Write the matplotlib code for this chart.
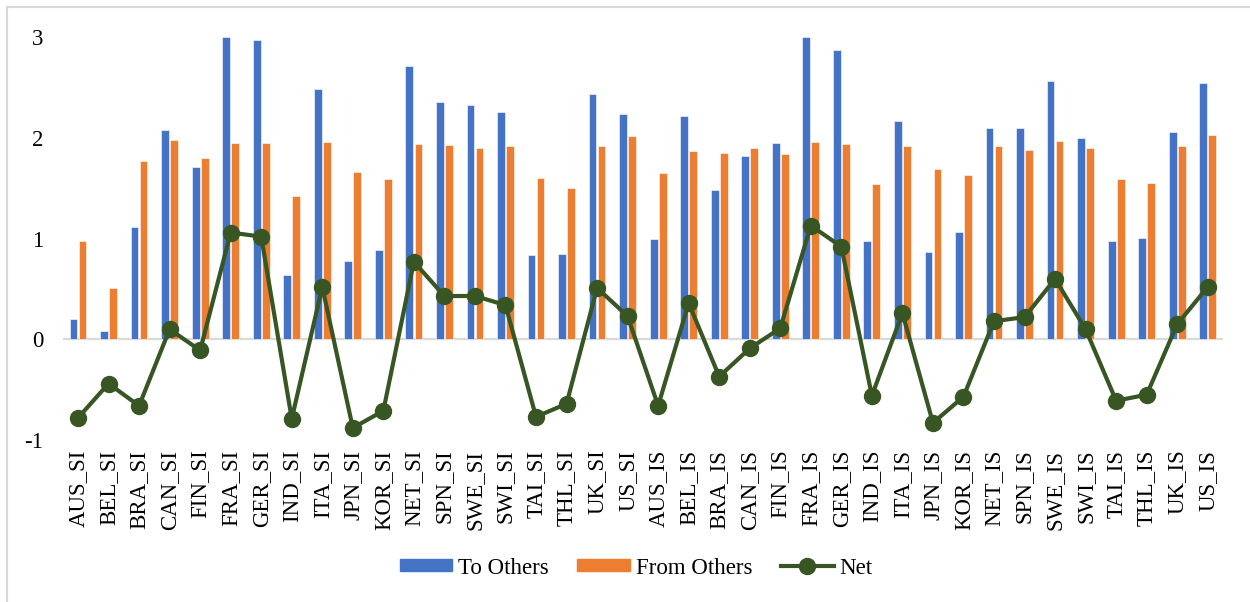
import matplotlib
matplotlib.use("Agg")
import matplotlib.pyplot as plt
import numpy as np
from matplotlib.lines import Line2D

plt.rcParams['font.family'] = ['Liberation Serif', 'DejaVu Serif']

categories = [
    "AUS_SI", "BEL_SI", "BRA_SI", "CAN_SI", "FIN_SI", "FRA_SI", "GER_SI", "IND_SI",
    "ITA_SI", "JPN_SI", "KOR_SI", "NET_SI", "SPN_SI", "SWE_SI", "SWI_SI", "TAI_SI",
    "THL_SI", "UK_SI", "US_SI",
    "AUS_IS", "BEL_IS", "BRA_IS", "CAN_IS", "FIN_IS", "FRA_IS", "GER_IS", "IND_IS",
    "ITA_IS", "JPN_IS", "KOR_IS", "NET_IS", "SPN_IS", "SWE_IS", "SWI_IS", "TAI_IS",
    "THL_IS", "UK_IS", "US_IS",
]

to_others = [
    0.20, 0.08, 1.12, 2.08, 1.71, 3.00, 2.97, 0.64, 2.49, 0.78, 0.89, 2.71, 2.36,
    2.33, 2.26, 0.84, 0.85, 2.44, 2.24,
    1.00, 2.22, 1.48, 1.82, 1.95, 3.00, 2.87, 0.98, 2.17, 0.87, 1.07, 2.10, 2.10,
    2.57, 2.00, 0.98, 1.01, 2.06, 2.55,
]

from_others = [
    0.98, 0.51, 1.77, 1.98, 1.80, 1.95, 1.95, 1.42, 1.96, 1.66, 1.59, 1.94, 1.93,
    1.90, 1.92, 1.60, 1.50, 1.92, 2.02,
    1.65, 1.87, 1.85, 1.90, 1.84, 1.96, 1.94, 1.54, 1.92, 1.69, 1.63, 1.92, 1.88,
    1.97, 1.90, 1.59, 1.55, 1.92, 2.03,
]

net = [
    -0.78, -0.44, -0.66, 0.10, -0.11, 1.06, 1.02, -0.79, 0.52, -0.88, -0.71, 0.77,
    0.43, 0.43, 0.34, -0.77, -0.64, 0.51, 0.23,
    -0.66, 0.36, -0.37, -0.09, 0.11, 1.13, 0.92, -0.56, 0.26, -0.83, -0.57, 0.18,
    0.22, 0.60, 0.10, -0.61, -0.55, 0.15, 0.52,
]

y_ticks = [-1, 0, 1, 2, 3]

BLUE = "#4472C4"
ORANGE = "#ED7D31"
GREEN = "#375623"
FS = 16.5

fig = plt.figure(figsize=(12.5, 6.02), dpi=100)
ax = fig.add_axes([0.0502, 0.2691, 0.9282, 0.669])

x = np.arange(len(categories))
w = 0.255
off = 0.148
ax.bar(x - off, to_others, width=w, color=BLUE, edgecolor="white",
       linewidth=0.4, zorder=2, label="To Others", clip_on=False)
ax.bar(x + off, from_others, width=w, color=ORANGE, edgecolor="white",
       linewidth=0.4, zorder=2, label="From Others", clip_on=False)
ax.axhline(0, color="#D9D9D9", linewidth=1.6, zorder=1)
ax.plot(x, net, color=GREEN, linewidth=3, marker="o", markersize=11.5,
        zorder=3, label="Net", clip_on=False)

ax.set_xlim(-0.5, len(categories) - 0.5)
ax.set_ylim(-1, 3)
ax.set_yticks(y_ticks)
ax.set_yticklabels([str(t) for t in y_ticks], fontsize=FS)
ax.set_xticks(x)
ax.set_xticklabels(categories, rotation=90, fontsize=FS)
ax.tick_params(axis="y", length=0, pad=14)
ax.tick_params(axis="x", length=0, pad=7)
for s in ax.spines.values():
    s.set_visible(False)

handles = [
    plt.Rectangle((0, 0), 1, 1, color=BLUE),
    plt.Rectangle((0, 0), 1, 1, color=ORANGE),
    Line2D([0], [0], color=GREEN, linewidth=3, marker="o", markersize=11.5),
]
fig.legend(handles, ["To Others", "From Others", "Net"],
           loc="center", bbox_to_anchor=(636 / 1250, 1 - 568 / 602),
           ncol=3, frameon=False, fontsize=FS, handlelength=2.3,
           handleheight=0.45, handletextpad=0.25, columnspacing=1.25)

# chart frame (left and top edges)
fig.add_artist(Line2D([7 / 1250, 7 / 1250], [0, 1 - 7 / 602],
                      transform=fig.transFigure, color="#D9D9D9", linewidth=1.5))
fig.add_artist(Line2D([7 / 1250, 1], [1 - 7 / 602, 1 - 7 / 602],
                      transform=fig.transFigure, color="#D9D9D9", linewidth=1.5))

fig.savefig("out.png", dpi=100)
